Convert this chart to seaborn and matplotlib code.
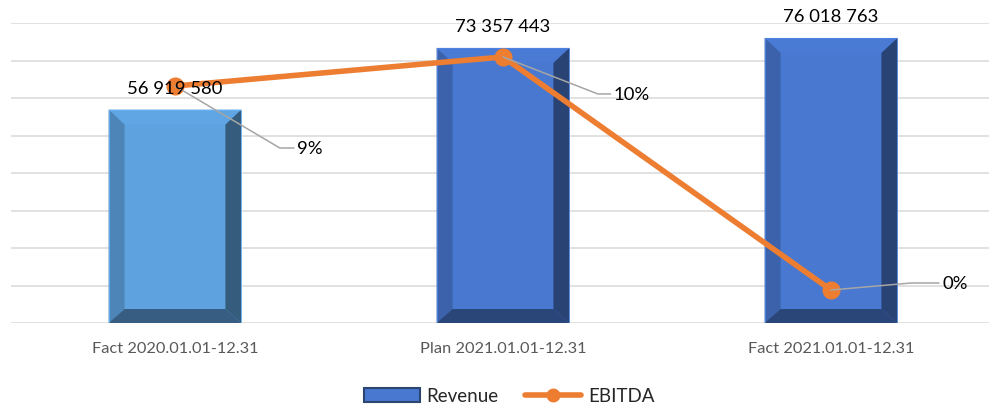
import numpy as np
import matplotlib
matplotlib.use("Agg")
import matplotlib.pyplot as plt
import matplotlib.colors as mcolors
from matplotlib.patches import Polygon, Patch
from matplotlib.lines import Line2D
import seaborn as sns

# data
categories = ["Fact 2020.01.01-12.31", "Plan 2021.01.01-12.31", "Fact 2021.01.01-12.31"]
revenue = [56919580, 73357443, 76018763]
ebitda = [0.087, 0.0991, 0.002]
bar_colors = ["#5ea2e0", "#4878d0", "#4878d0"]

# label offsets for the percent labels (pixels) and leader angle
pct_offsets = [(135, -62), (129, -37), (124, 7)]
pct_angles = [-30.6, -21.3, 5]

sns.set_theme(style="white")
plt.rcParams["font.family"] = ["Lato", "DejaVu Sans"]

W, H = 989, 410
fig = plt.figure(figsize=(W / 100, H / 100), dpi=100)
ax = fig.add_axes([11 / W, (H - 324) / H, 978 / W, 300 / H])

sns.barplot(x=categories, y=revenue, hue=categories, palette=bar_colors,
            legend=False, width=0.405, ax=ax, saturation=1)
xlim = (-0.5, -0.5 + 978 / 328)
ax.set_xlim(*xlim)
ax.set_ylim(0, 80e6)
ax.set_yticks(np.arange(0, 80e6 + 1, 10e6))
ax.set_yticklabels([])
ax.grid(axis="y", color="#d9d9d9", linewidth=1.1)
ax.set_axisbelow(True)
for s in ax.spines.values():
    s.set_visible(False)
ax.tick_params(axis="x", length=0, pad=13, labelsize=11.8, labelcolor="#595959")
ax.tick_params(axis="y", length=0)

# bevel effect on bars
px_x = (xlim[1] - xlim[0]) / 978
px_y = 80e6 / 300
bx, bb, bt = 16 * px_x, 14 * px_y, 15 * px_y


def shade(c, f):
    r, g, b = mcolors.to_rgb(c)
    return (min(r * f, 1), min(g * f, 1), min(b * f, 1))


for p, col in zip(ax.patches, bar_colors):
    x0, y0 = p.get_x(), p.get_y()
    x1, y1 = x0 + p.get_width(), y0 + p.get_height()
    pieces = [
        ([(x0, y1), (x1, y1), (x1 - bx, y1 - bt), (x0 + bx, y1 - bt)], 1.02),
        ([(x0, y0), (x0 + bx, y0 + bb), (x0 + bx, y1 - bt), (x0, y1)], 0.82),
        ([(x1, y0), (x1 - bx, y0 + bb), (x1 - bx, y1 - bt), (x1, y1)], 0.56),
        ([(x0, y0), (x1, y0), (x1 - bx, y0 + bb), (x0 + bx, y0 + bb)], 0.58),
    ]
    for pts, f in pieces:
        ax.add_patch(Polygon(pts, closed=True, facecolor=shade(col, f),
                             edgecolor="none", zorder=p.get_zorder() + 0.1))
    ax.add_patch(Polygon([(x0, y0), (x0, y1), (x1, y1), (x1, y0)], closed=True,
                         fill=False, edgecolor=shade(col, 1.1), linewidth=0.6,
                         zorder=p.get_zorder() + 0.2))

# EBITDA on hidden secondary axis
ax2 = ax.twinx()
sns.pointplot(x=categories, y=ebitda, ax=ax2, color="#ed7d31", markers="o",
              errorbar=None, markersize=10, linewidth=4)
ax2.set_xlim(*xlim)
lo = 0.002 - 33 / 2400
ax2.set_ylim(lo, lo + 300 / 2400)
ax2.set_yticks([])
ax2.set_ylabel("")
ax2.grid(False)
for s in ax2.spines.values():
    s.set_visible(False)

# value labels above bars (drawn on top of the line)
for i, v in enumerate(revenue):
    ax2.annotate(f"{v:,.0f}".replace(",", " "), xy=(i, v), xycoords=ax.transData,
                 xytext=(0, 10), textcoords="offset points", ha="center", va="bottom",
                 fontsize=13.3, color="black", zorder=10)

# percent labels with leader lines
for i, v in enumerate(ebitda):
    ax2.annotate(f"{v:.0%}", xy=(i, v), xytext=pct_offsets[i],
                 textcoords="offset pixels", ha="center", va="center",
                 fontsize=13.3, color="black",
                 arrowprops=dict(arrowstyle="-", color="#a6a6a6", lw=1.1,
                                 shrinkA=0, shrinkB=0,
                                 connectionstyle=f"angle,angleA=0,angleB={pct_angles[i]},rad=0"))

handles = [Patch(facecolor="#4878d0", edgecolor="#2c4670", linewidth=1.5),
           Line2D([], [], color="#ed7d31", linewidth=4, marker="o", markersize=9)]
fig.legend(handles, ["Revenue", "EBITDA"], loc="center",
           bbox_to_anchor=(509 / W, 1 - 397 / H), ncol=2, frameon=False,
           fontsize=13.5, handlelength=3, handletextpad=0.35, columnspacing=1.4)

fig.savefig("out.png", dpi=100)
